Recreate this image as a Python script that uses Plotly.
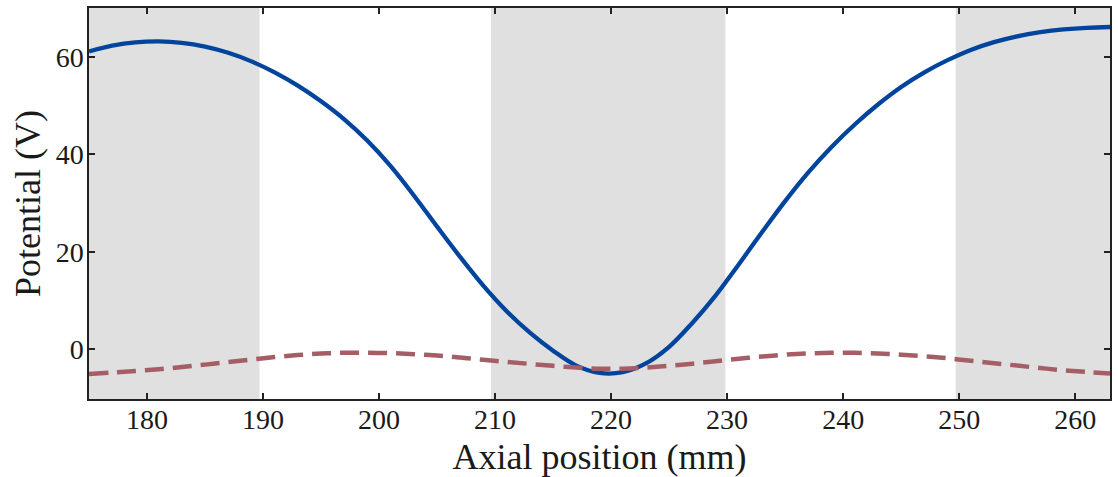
import plotly.graph_objects as go

# Axial position (mm) and on-axis potential (V)
pos_main = [175, 177, 179, 181, 183, 185, 187, 189, 191, 193, 195, 197, 199, 201,
            203, 205, 207, 209, 211, 213, 215, 217, 219, 221, 223, 225, 227,
            229, 231, 233, 235, 237, 239, 241, 243, 245, 247, 249, 251, 253, 255,
            257, 259, 261, 263]
pot_main = [61.1, 62.27, 62.95, 63.15, 62.86, 62.08, 60.81, 59.05, 56.8, 54.07, 50.85, 47.15, 42.75, 37.55,
            31.55, 25.15, 18.9, 13.0, 7.8, 3.4, -0.3, -3.35, -4.85, -4.7, -2.9, 0.5, 5.4,
            11.0, 17.4, 24.0, 30.4, 36.3, 41.5, 46.1, 50.2, 53.8, 56.8, 59.3, 61.4, 63.0, 64.2,
            65.04, 65.6, 65.94, 66.1]

pos_aux = [175, 177, 179, 181, 183, 185, 187, 189, 191, 193, 195, 197, 199, 201,
           203, 205, 207, 209, 211, 213, 215, 217, 219, 221, 223, 225, 227,
           229, 231, 233, 235, 237, 239, 241, 243, 245, 247, 249, 251, 253, 255,
           257, 259, 261, 263]
pot_aux = [-5.05, -4.78, -4.47, -4.1, -3.65, -3.15, -2.62, -2.1, -1.6, -1.18, -0.88, -0.72, -0.7, -0.8,
           -1.0, -1.3, -1.7, -2.15, -2.6, -3.0, -3.4, -3.75, -3.98, -3.98, -3.75, -3.4, -2.95,
           -2.45, -1.95, -1.5, -1.12, -0.85, -0.72, -0.72, -0.85, -1.1, -1.45, -1.85, -2.35, -2.85, -3.35,
           -3.85, -4.3, -4.65, -4.95]

# Electrode (shaded) regions in mm
electrodes = [(175.0, 189.7), (209.65, 229.85), (249.7, 263.0)]

x_ticks = [180, 190, 200, 210, 220, 230, 240, 250, 260]
y_ticks = [0, 20, 40, 60]

fig = go.Figure()

fig.add_trace(go.Scatter(
    x=pos_main, y=pot_main, mode="lines",
    line=dict(color="#00449e", width=4.3, shape="spline", smoothing=1.0),
    showlegend=False, hoverinfo="skip"))

fig.add_trace(go.Scatter(
    x=pos_aux, y=pot_aux, mode="lines",
    line=dict(color="#a65e66", width=4.5, dash="19px,9px", shape="spline", smoothing=1.0),
    showlegend=False, hoverinfo="skip"))

for x0, x1 in electrodes:
    fig.add_shape(type="rect", xref="x", yref="paper", x0=x0, x1=x1, y0=0, y1=1,
                  fillcolor="#e0e0e0", line=dict(width=0), layer="below")

font_family = "Liberation Serif, DejaVu Serif, serif"

axis_common = dict(
    showline=True, linecolor="#222222", linewidth=1.5, mirror="ticks",
    ticks="inside", ticklen=6, tickwidth=1.5, tickcolor="#222222",
    showgrid=False, zeroline=False,
    tickfont=dict(family=font_family, size=28, color="#1a1a1a"),
)

fig.update_xaxes(range=[175, 263], tickvals=x_ticks, ticklabelstandoff=-5,
                 title=dict(text="Axial position (mm)", standoff=10,
                            font=dict(family=font_family, size=36, color="#1a1a1a")),
                 **axis_common)
fig.update_yaxes(range=[-10.2, 70], tickvals=y_ticks, ticklabelstandoff=-2,
                 title=dict(text="Potential (V)", standoff=4,
                            font=dict(family=font_family, size=36, color="#1a1a1a")),
                 **axis_common)

fig.update_layout(
    width=1118, height=477,
    margin=dict(l=89, r=6, t=7, b=78),
    paper_bgcolor="white", plot_bgcolor="white",
)

fig.write_html("out.html")
